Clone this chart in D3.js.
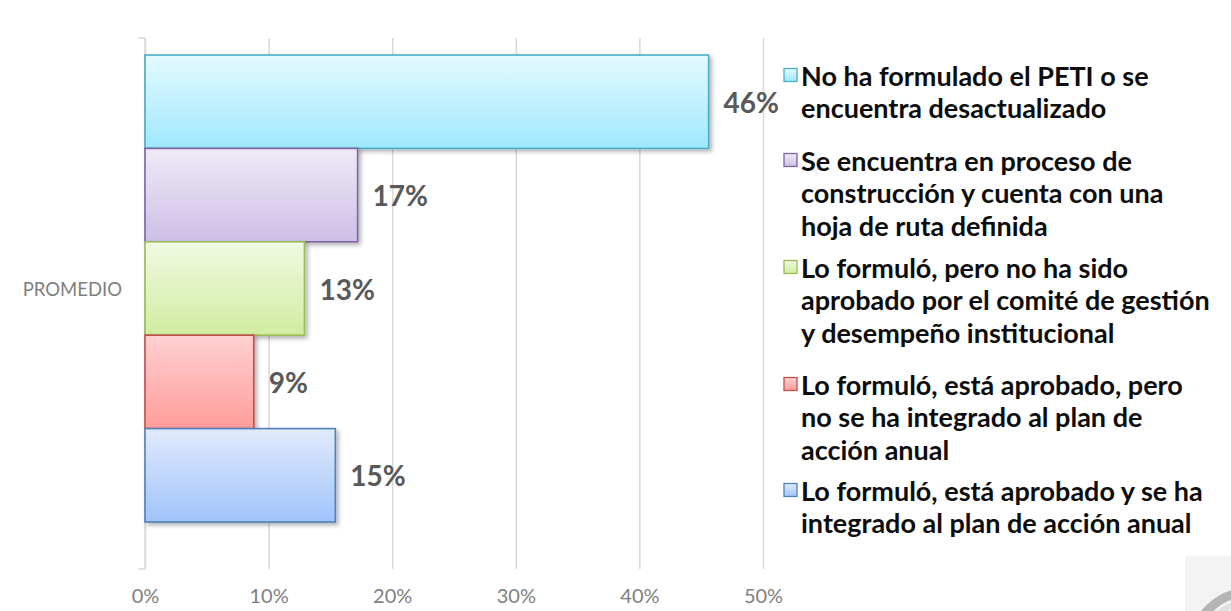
<!DOCTYPE html>
<html><head><meta charset="utf-8">
<script src="https://cdn.jsdelivr.net/npm/d3@7"></script>
<style>
html,body{margin:0;padding:0;background:#fff;}
svg{display:block;}
</style></head>
<body>
<svg id="chart" width="1231" height="611"></svg>
<script>
// ---- data ----
const category = "PROMEDIO";
const seriesNames = [
  "No ha formulado el PETI o se encuentra desactualizado",
  "Se encuentra en proceso de construcción y cuenta con una hoja de ruta definida",
  "Lo formuló, pero no ha sido aprobado por el comité de gestión y desempeño institucional",
  "Lo formuló, está aprobado, pero no se ha integrado al plan de acción anual",
  "Lo formuló, está aprobado y se ha integrado al plan de acción anual"
];
const legendLines = [
  ["No ha formulado el PETI o se", "encuentra desactualizado"],
  ["Se encuentra en proceso de", "construcción y cuenta con una", "hoja de ruta definida"],
  ["Lo formuló, pero no ha sido", "aprobado por el comité de gestión", "y desempeño institucional"],
  ["Lo formuló, está aprobado, pero", "no se ha integrado al plan de", "acción anual"],
  ["Lo formuló, está aprobado y se ha", "integrado al plan de acción anual"]
];
const values = [45.6, 17.2, 12.9, 8.8, 15.4];
const valueLabels = ["46%", "17%", "13%", "9%", "15%"];
const xTicks = [0, 10, 20, 30, 40, 50];
const xTickLabels = ["0%", "10%", "20%", "30%", "40%", "50%"];

// ---- styles ----
const colors = [
  {top:"#e3faff", bottom:"#9fe8fd", stroke:"#4bacc6"},
  {top:"#efeaf7", bottom:"#cdbfe6", stroke:"#8064a2"},
  {top:"#f1f9e3", bottom:"#d1ec9f", stroke:"#9bbb59"},
  {top:"#ffd0d0", bottom:"#ff9d9b", stroke:"#c0504d"},
  {top:"#e1ebfc", bottom:"#a1c3fc", stroke:"#4f81bd"}
];
const legendTops = [75, 160, 267, 384, 490];
const legendLineH = 32.5;
const FONT = "Lato, 'Open Sans', sans-serif";

const svg = d3.select("#chart");
const defs = svg.append("defs");
colors.forEach((c,i)=>{
  const g = defs.append("linearGradient").attr("id","g"+i)
    .attr("x1",0).attr("y1",0).attr("x2",0).attr("y2",1);
  g.append("stop").attr("offset","0%").attr("stop-color",c.top);
  g.append("stop").attr("offset","100%").attr("stop-color",c.bottom);
});
const f = defs.append("filter").attr("id","shadow").attr("x","-10%").attr("y","-10%").attr("width","130%").attr("height","130%");
f.append("feDropShadow").attr("dx",2.5).attr("dy",2.5).attr("stdDeviation",2)
  .attr("flood-color","#000").attr("flood-opacity",0.3);

const x = d3.scaleLinear().domain([0,50]).range([145,763]);
const y = d3.scaleBand().domain(seriesNames).range([55,522]).padding(0);
const gridTop = 38, gridBottom = 569;

// gridlines + tick labels
const xAxis = d3.axisBottom(x).tickValues(xTicks).tickSize(-(gridBottom-gridTop))
  .tickFormat((d,i)=>xTickLabels[i]).tickPadding(20);
const gx = svg.append("g").attr("transform",`translate(0,${gridBottom})`).call(xAxis);
gx.select(".domain").remove();
gx.selectAll(".tick line").attr("stroke","#d9d9d9").attr("stroke-width",1.5);
gx.selectAll(".tick text").attr("fill","#7f7f7f")
  .style("font-family",FONT).style("font-size","20px").attr("dy","0.71em");

// category axis
const yCat = d3.scaleBand().domain([category]).range([y.range()[0], y.range()[1]]);
svg.append("line").attr("x1",x(0)).attr("x2",x(0)).attr("y1",gridTop).attr("y2",gridBottom)
  .attr("stroke","#d9d9d9").attr("stroke-width",1.5);
svg.append("line").attr("x1",x(0)-7).attr("x2",x(0)).attr("y1",gridBottom).attr("y2",gridBottom)
  .attr("stroke","#d9d9d9").attr("stroke-width",1.5);
svg.append("line").attr("x1",x(0)-7).attr("x2",x(0)).attr("y1",gridTop).attr("y2",gridTop)
  .attr("stroke","#d9d9d9").attr("stroke-width",1.5);
svg.append("text").attr("x",122).attr("y",yCat(category)+yCat.bandwidth()/2)
  .attr("text-anchor","end").attr("dominant-baseline","central")
  .attr("fill","#7f7f7f").style("font-family",FONT).style("font-size","18.5px")
  .text(category);

// bars
svg.append("g").selectAll("rect").data(values).join("rect")
  .attr("x",x(0)).attr("y",(d,i)=>y(seriesNames[i]))
  .attr("width",d=>x(d)-x(0)).attr("height",y.bandwidth())
  .attr("fill",(d,i)=>`url(#g${i})`).attr("stroke",(d,i)=>colors[i].stroke)
  .attr("stroke-width",1.6).attr("filter","url(#shadow)");

// value labels
svg.append("g").selectAll("text").data(values).join("text")
  .attr("x",d=>x(d)+15).attr("y",(d,i)=>y(seriesNames[i])+y.bandwidth()/2)
  .attr("dominant-baseline","central").attr("fill","#595959")
  .style("font-family",FONT).style("font-weight","bold").style("font-size","28px")
  .text((d,i)=>valueLabels[i]);

// legend
const lg = svg.append("g");
legendLines.forEach((lines,i)=>{
  const t = legendTops[i];
  lg.append("rect").attr("x",784).attr("y",t-6.5).attr("width",13).attr("height",13)
    .attr("fill",`url(#g${i})`).attr("stroke",colors[i].stroke).attr("stroke-width",1.3);
  lines.forEach((ln,j)=>{
    lg.append("text").attr("x",801).attr("y",t+j*legendLineH)
      .attr("dominant-baseline","central").attr("fill","#0d0d0d")
      .style("font-family",FONT).style("font-weight","bold").style("font-size","27px")
      .text(ln);
  });
});

// corner logo decoration
svg.append("rect").attr("x",1185).attr("y",556).attr("width",46).attr("height",55).attr("fill","#f3f3f3");
svg.append("circle").attr("cx",1250).attr("cy",650).attr("r",58).attr("fill","none")
  .attr("stroke","#b5b5b5").attr("stroke-width",9);
svg.append("circle").attr("cx",1250).attr("cy",650).attr("r",48).attr("fill","none")
  .attr("stroke","#e0e0e0").attr("stroke-width",6);
</script>
</body></html>
